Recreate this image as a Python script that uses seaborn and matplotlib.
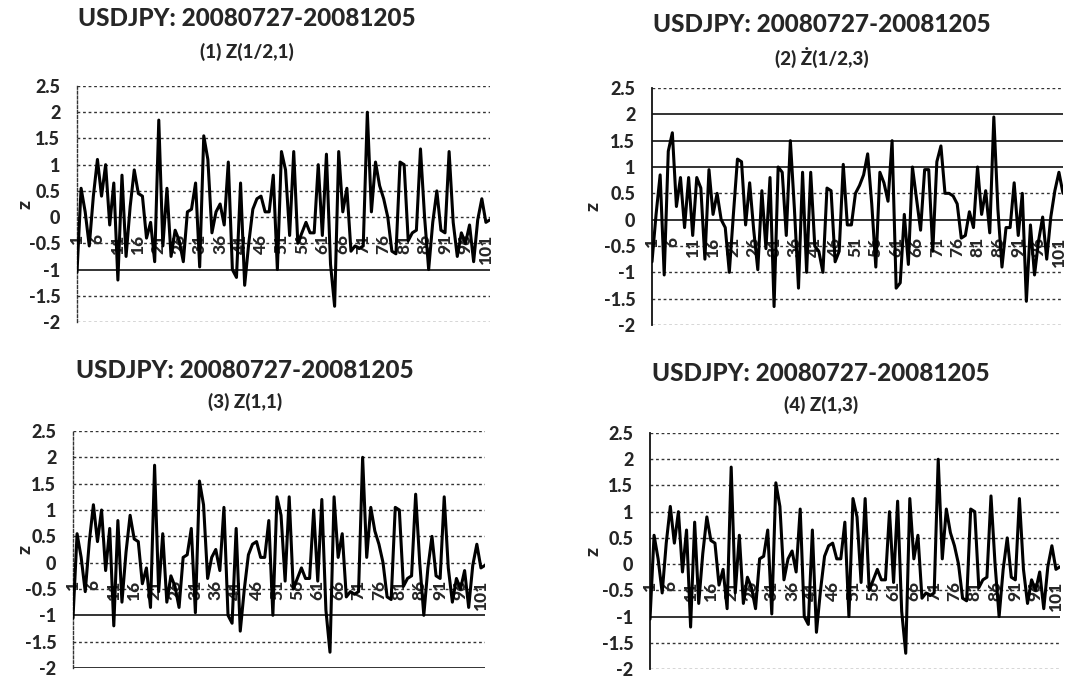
import numpy as np
import pandas as pd
import matplotlib
matplotlib.use("Agg")
import matplotlib.pyplot as plt
import seaborn as sns

# ---------------- data ----------------
days = list(range(1, 103))

z_half_1 = [-1.05, 0.55, 0.1, -0.55, 0.4, 1.1, 0.4, 1.0, -0.15, 0.65,
            -1.2, 0.8, -0.75, 0.2, 0.9, 0.45, 0.4, -0.4, -0.1, -0.85,
            1.85, -0.55, 0.55, -0.75, -0.25, -0.45, -0.85, 0.1, 0.15, 0.65,
            -0.95, 1.55, 1.1, -0.3, 0.1, 0.25, -0.15, 1.05, -1.0, -1.15,
            0.65, -1.3, -0.5, 0.15, 0.35, 0.4, 0.1, 0.1, 0.8, -1.0,
            1.25, 0.9, -0.35, 1.25, -0.5, -0.3, -0.1, -0.3, -0.3, 1.0,
            -0.35, 1.2, -0.9, -1.7, 1.25, 0.1, 0.55, -0.65, -0.55, -0.6,
            -0.55, 2.0, 0.1, 1.05, 0.6, 0.35, 0.0, -0.65, -0.7, 1.05,
            1.0, -0.45, -0.3, -0.25, 1.3, 0.0, -1.0, -0.1, 0.5, -0.25,
            -0.3, 1.25, -0.1, -0.75, -0.3, -0.5, -0.15, -0.85, -0.05, 0.35,
            -0.1, -0.05]

z_half_3 = [-0.8, 0.1, 0.85, -1.05, 1.3, 1.65, 0.25, 0.8, -0.15, 0.8,
            -0.3, 0.8, 0.6, -0.75, 0.95, 0.1, 0.5, 0.0, -0.15, -1.0,
            0.1, 1.15, 1.1, -0.1, 0.7, -0.2, -0.95, 0.55, -0.55, 0.8,
            -1.65, 1.0, 0.9, -0.3, 1.5, 0.2, -1.3, 0.9, -1.0, 0.9,
            -0.5, -0.6, -1.0, 0.6, 0.55, -0.8, -0.6, 1.05, -0.1, -0.1,
            0.5, 0.65, 0.85, 1.25, 0.3, -0.9, 0.9, 0.7, 0.35, 1.5,
            -1.3, -1.2, 0.1, -0.85, 1.0, 0.4, -0.2, 0.95, 0.95, -0.6,
            1.1, 1.4, 0.5, 0.5, 0.45, 0.3, -0.35, -0.3, 0.15, -0.15,
            1.0, 0.1, 0.55, -0.25, 1.95, 0.2, -0.9, -0.15, -0.15, 0.7,
            -0.3, 0.5, -1.55, -0.1, -1.05, -0.4, 0.05, -0.75, 0.05, 0.55,
            0.9, 0.5]

# panels (3) and (4) read the same as panel (1) in the picture
z_1_1 = list(z_half_1)
z_1_3 = list(z_half_1)

main_title = "USDJPY: 20080727-20081205"
subtitles = ["(1) Z(1/2,1)", "(2) Ż(1/2,3)", "(3) Z(1,1)", "(4) Z(1,3)"]
series = [z_half_1, z_half_3, z_1_1, z_1_3]
x_ticks = list(range(1, 102, 5))
y_ticks = [-2, -1.5, -1, -0.5, 0, 0.5, 1, 1.5, 2, 2.5]
y_tick_labels = ["-2", "-1.5", "-1", "-0.5", "0", "0.5", "1", "1.5", "2", "2.5"]

# ---------------- styling ----------------
sns.set_style("white")
plt.rcParams["font.family"] = ["Lato", "DejaVu Sans"]

W, H = 1087, 679
fig = plt.figure(figsize=(W / 100, H / 100), dpi=100)

# axes boxes in pixels: left, top, right, bottom
boxes = [(77, 86, 490, 322), (652, 88, 1063, 325),
         (73, 431, 485, 668), (650, 433, 1060, 669)]
title_pos = [(247, 19, 52), (822, 25, 57), (245, 371, 402), (821, 373, 405)]
ylabel_x = [25, 593, 25, 593]
solid_levels = [{-1.0}, {2.0, 1.5, 1.0, 0.0}, {-1.0, -2.0}, {-1.0}]
solid_left = [False, True, False, True]
HEAVY = "black"

for k in range(4):
    l, t, r, b = boxes[k]
    ax = fig.add_axes([l / W, 1 - b / H, (r - l) / W, (b - t) / H])
    # spine placement first (it resets the tick objects)
    ax.spines["bottom"].set_position(("data", -0.3))
    ax.spines["bottom"].set_color("none")
    ax.spines["top"].set_visible(False)
    ax.spines["right"].set_visible(False)
    if solid_left[k]:
        ax.spines["left"].set_linestyle("-")
        ax.spines["left"].set_color("#111111")
        ax.spines["left"].set_linewidth(1.3)
    else:
        ax.spines["left"].set_linestyle((0, (2, 1.5)))
        ax.spines["left"].set_color("#333333")
        ax.spines["left"].set_linewidth(1.0)

    df = pd.DataFrame({"day": days, "z": series[k]})
    for yv in y_ticks:
        if yv in solid_levels[k]:
            ax.axhline(yv, color="#111111", lw=1.2, ls="-", zorder=1)
        else:
            ax.axhline(yv, color="#333333", lw=1.0, ls=(0, (2, 2)), zorder=1)
    sns.lineplot(data=df, x="day", y="z", ax=ax, color="black", lw=2.2,
                 errorbar=None, zorder=3)
    ax.set_xlim(1, 102)
    ax.set_ylim(-2, 2.5)
    ax.set_yticks(y_ticks)
    ax.set_yticklabels(y_tick_labels, fontsize=13, fontweight=HEAVY)
    ax.set_xticks(x_ticks)
    ax.set_xticklabels([str(v) for v in x_ticks], rotation=90,
                       fontsize=12.5, fontweight=HEAVY, va="top", ha="center")
    ax.tick_params(axis="x", length=0, pad=1)
    ax.tick_params(axis="y", length=0, pad=12)
    ax.set_xlabel("")
    ax.set_ylabel("")
    ax.patch.set_alpha(0)

    cx, ty, sy = title_pos[k]
    fig.text(cx / W, 1 - ty / H, main_title, ha="center", va="center",
             fontsize=17.5, fontweight=HEAVY)
    fig.text(cx / W, 1 - sy / H, subtitles[k], ha="center", va="center",
             fontsize=13.5, fontweight=HEAVY)
    fig.text(ylabel_x[k] / W, 1 - ((t + b) / 2) / H, "z", rotation=90,
             ha="center", va="center", fontsize=14, fontweight=HEAVY)

fig.savefig("out.png", dpi=100, facecolor="white")
